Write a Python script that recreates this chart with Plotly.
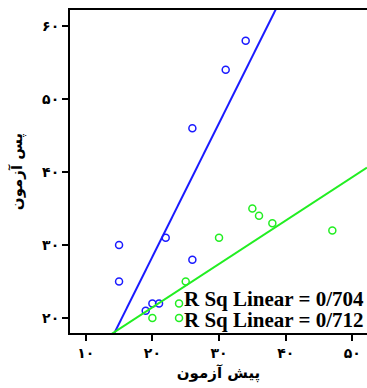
import numpy as np
import plotly.graph_objects as go

# Data
blue_x = [34, 31, 26, 15, 15, 22, 26, 19, 20, 21]
blue_y = [58, 54, 46, 30, 25, 31, 28, 21, 22, 22]
green_x = [35, 36, 38, 30, 47, 25, 24, 20, 24]
green_y = [35, 34, 33, 31, 32, 25, 22, 20, 20]

x_tickvals = [10, 20, 30, 40, 50]
x_ticktext = ['۱۰', '۲۰', '۳۰', '۴۰', '۵۰']
y_tickvals = [20, 30, 40, 50, 60]
y_ticktext = ['۲۰', '۳۰', '۴۰', '۵۰', '۶۰']
r2_labels = ['R Sq Linear = 0/704', 'R Sq Linear = 0/712']

x_range = [7.64, 52.2]
y_range = [17.95, 62.2]

BLUE = '#1a1aff'
GREEN = '#22ee22'

fig = go.Figure()

for xs, ys, col in [(blue_x, blue_y, BLUE), (green_x, green_y, GREEN)]:
    m, b = np.polyfit(xs, ys, 1)
    lx = np.array(x_range)
    fig.add_trace(go.Scatter(x=lx, y=m * lx + b, mode='lines',
                             line=dict(color=col, width=2), showlegend=False,
                             hoverinfo='skip'))
    fig.add_trace(go.Scatter(x=xs, y=ys, mode='markers',
                             marker=dict(symbol='circle-open', size=7, color=col,
                                         line=dict(width=1.5, color=col)),
                             showlegend=False, cliponaxis=False))

for label, ypix in zip(r2_labels, [299, 320]):
    fig.add_annotation(x=1.0, xref='paper', xanchor='right', xshift=-1,
                       yref='paper', y=(333 - ypix) / 323, yanchor='middle',
                       text='<b>' + label + '</b>', showarrow=False,
                       font=dict(family='Liberation Serif', size=21, color='black'))

fig.update_layout(
    width=367, height=388,
    margin=dict(l=70, r=0, t=10, b=55),
    paper_bgcolor='white', plot_bgcolor='white',
    font=dict(family='DejaVu Sans', color='black'),
    xaxis=dict(range=x_range, tickvals=x_tickvals,
               ticktext=['<b>' + t + '</b>' for t in x_ticktext],
               showgrid=False, zeroline=False, showline=True, linecolor='black',
               linewidth=2, mirror=True, ticks='outside', ticklen=6, tickwidth=2,
               tickcolor='black',
               tickfont=dict(family='DejaVu Sans', size=14, color='black'),
               title=dict(text='<b>پیش آزمون</b>', standoff=8,
                          font=dict(family='DejaVu Sans', size=15, color='black'))),
    yaxis=dict(range=y_range, tickvals=y_tickvals,
               ticktext=['<b>' + t + '</b>' for t in y_ticktext],
               showgrid=False, zeroline=False, showline=True, linecolor='black',
               linewidth=2, ticks='outside', ticklen=6, tickwidth=2,
               tickcolor='black',
               tickfont=dict(family='DejaVu Sans', size=14, color='black'),
               title=dict(text='<b>پس آزمون</b>', standoff=16,
                          font=dict(family='DejaVu Sans', size=15, color='black'))),
)

fig.write_html('out.html', config={'displayModeBar': False},
               post_script="document.body.style.margin='0';document.body.style.overflow='hidden';")
